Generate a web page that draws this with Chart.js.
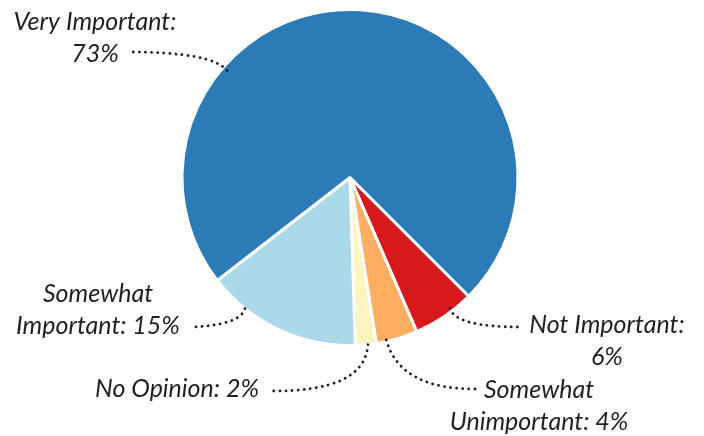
<!DOCTYPE html>
<html>
<head>
<meta charset="utf-8">
<script src="https://cdn.jsdelivr.net/npm/chart.js@4"></script>
<style>
  html, body { margin: 0; padding: 0; background: #fff; }
  #wrap { width: 704px; height: 436px; position: relative; }
</style>
</head>
<body>
<div id="wrap"><canvas id="importancia"></canvas></div>
<script>
// respostas, na ordem em que as fatias aparecem (sentido horario)
const categorias = ['Not Important', 'Somewhat Unimportant', 'No Opinion', 'Somewhat Important', 'Very Important']
const percentuais = [6, 4, 2, 15, 73]
const cores = ['#d7191c', '#fdae61', '#fcf5c0', '#abd9e9', '#2c7bb6']

// texto de cada rotulo (linhas) e onde fica
const rotulos = [
  { linhas: ['Not Important:', '6%'], x: 607, y: 333 },
  { linhas: ['Somewhat', 'Unimportant: 4%'], x: 539, y: 398 },
  { linhas: ['No Opinion: 2%'], x: 177, y: 397 },
  { linhas: ['Somewhat', 'Important: 15%'], x: 98, y: 302 },
  { linhas: ['Very Important:', '73%'], x: 95, y: 30 }
]

// linhas pontilhadas: angulo (fracao da fatia), raio relativo, ponto de controle e ponto final
const guias = [
  { frac: 0.35, r: 0.98, cx: 455, cy: 327, ex: 520, ey: 327 },
  { frac: 0.75, r: 0.99, cx: 400, cy: 390, ex: 478, ey: 389 },
  { frac: 0.4, r: 1.0, cx: 365, cy: 392, ex: 270, ey: 391 },
  { frac: 0.75, r: 1.0, cx: 240, cy: 325, ex: 192, ey: 327 },
  { frac: 0.30, r: 0.97, cx: 212, cy: 52, ex: 128, ey: 52 }
]

const fonte = 'italic 25px Lato'

const rotulosPlugin = {
  id: 'rotulos',
  afterDraw(chart) {
    const c = chart.ctx
    const arcos = chart.getDatasetMeta(0).data
    c.save()
    c.strokeStyle = '#231f20'
    c.lineWidth = 2.8
    c.lineCap = 'round'
    c.setLineDash([0.1, 6])
    guias.forEach((g, i) => {
      const a = arcos[i]
      const ang = a.startAngle + (a.endAngle - a.startAngle) * g.frac
      const x0 = a.x + Math.cos(ang) * a.outerRadius * g.r
      const y0 = a.y + Math.sin(ang) * a.outerRadius * g.r
      c.beginPath()
      c.moveTo(x0, y0)
      c.quadraticCurveTo(g.cx, g.cy, g.ex, g.ey)
      c.stroke()
    })
    c.setLineDash([])
    c.fillStyle = '#231f20'
    c.font = fonte
    c.textAlign = 'center'
    c.textBaseline = 'alphabetic'
    rotulos.forEach(r => {
      r.linhas.forEach((t, j) => {
        c.fillText(t, r.x, r.y + j * 32)
      })
    })
    c.restore()
  }
}

const ctx = document.getElementById('importancia')

new Chart(ctx, {
  type: 'pie',
  data: {
    labels: categorias,
    datasets: [{
      data: percentuais,
      backgroundColor: cores,
      borderColor: '#ffffff',
      borderWidth: 3
    }]
  },
  options: {
    responsive: true,
    maintainAspectRatio: false,
    animation: false,
    rotation: 135,
    layout: {
      padding: { top: 8, bottom: 89, left: 178, right: 182 }
    },
    plugins: {
      legend: { display: false },
      tooltip: { enabled: false }
    }
  },
  plugins: [rotulosPlugin]
});
</script>
</body>
</html>
